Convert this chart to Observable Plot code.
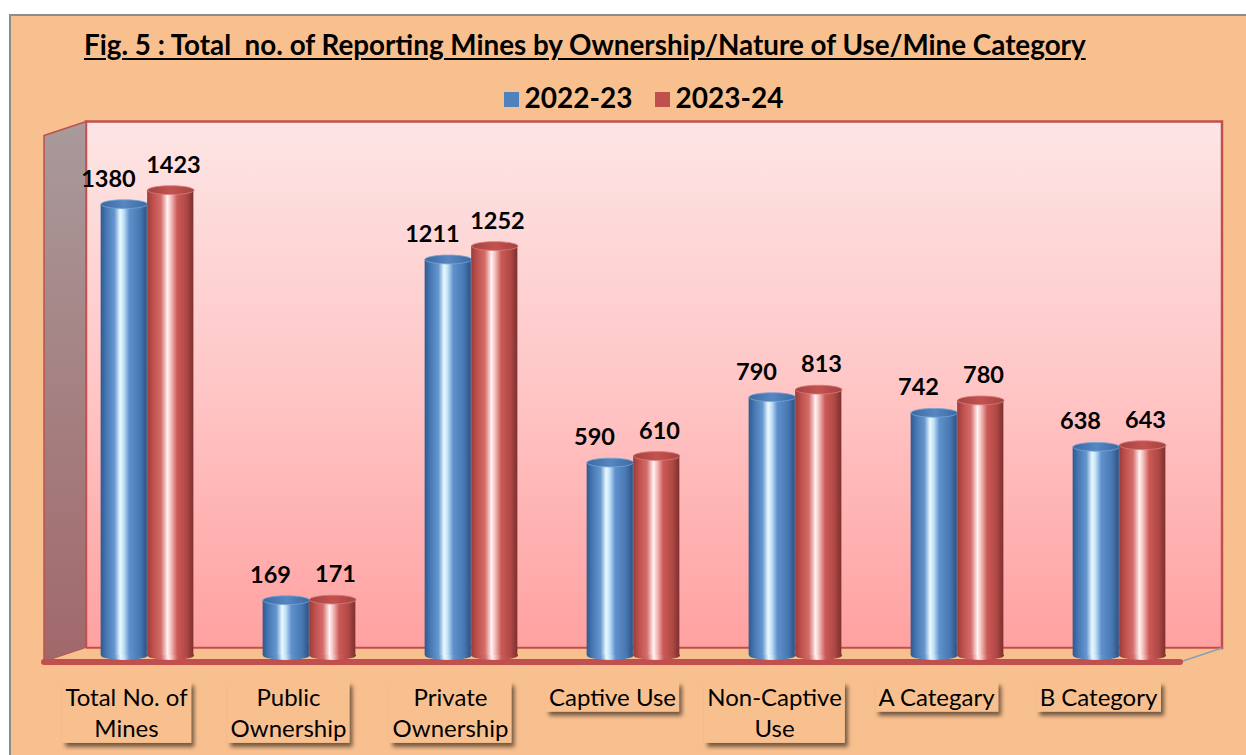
<!DOCTYPE html>
<html><head><meta charset="utf-8">
<script src="https://cdn.jsdelivr.net/npm/d3@7"></script>
<script src="https://cdn.jsdelivr.net/npm/@observablehq/plot@0.6"></script>
<style>
html,body{margin:0;padding:0;background:#fff;width:1246px;height:755px;overflow:hidden;position:relative;}
#panel{position:absolute;left:9px;top:14px;width:1260px;height:770px;background:#F9C08F;border:2px solid #8c8c8c;box-sizing:border-box;}
#title{position:absolute;left:84px;top:28px;font-family:Lato,"Open Sans",sans-serif;font-weight:700;font-size:27.8px;color:#000;text-decoration:underline;text-underline-offset:3px;white-space:pre;}
#legend{position:absolute;left:0;top:80px;width:1287px;text-align:center;font-family:Lato,"Open Sans",sans-serif;font-weight:700;font-size:28px;color:#000;line-height:34px;}
#legend span.item{display:inline-block;margin:0 11px;}
#legend span.sw{display:inline-block;width:15px;height:15px;margin-right:6px;vertical-align:1px;}
#chart{position:absolute;left:0;top:112px;}
</style></head>
<body>
<div id="panel"></div>
<div id="title">Fig. 5 : Total  no. of Reporting Mines by Ownership/Nature of Use/Mine Category</div>
<div id="legend"></div>
<div id="chart"></div>
<script>
// ---- data ----
const categories = ["Total No. of Mines","Public Ownership","Private Ownership","Captive Use","Non-Captive Use","A Categary","B Category"];
const tickLabels = ["Total No. of\nMines","Public\nOwnership","Private\nOwnership","Captive Use","Non-Captive\nUse","A Categary","B Category"];
const years = ["2022-23","2023-24"];
const values2022 = [1380,169,1211,590,790,742,638];
const values2023 = [1423,171,1252,610,813,780,643];
const yearColors = ["#4F81BD","#C0504D"];

const rows22 = categories.map((c,i)=>({category:c, year:years[0], value:values2022[i]}));
const rows23 = categories.map((c,i)=>({category:c, year:years[1], value:values2023[i]}));

// legend
const lg = document.getElementById("legend");
years.forEach((y,i)=>{
  const it = document.createElement("span"); it.className="item";
  const sw = document.createElement("span"); sw.className="sw"; sw.style.background=yearColors[i];
  it.appendChild(sw); it.appendChild(document.createTextNode(y)); lg.appendChild(it);
});

const NS = "http://www.w3.org/2000/svg";
function el(name, attrs, parent){ const e=document.createElementNS(NS,name); for(const k in attrs) e.setAttribute(k,attrs[k]); if(parent) parent.appendChild(e); return e; }
function lin(defs,id,stops,vertical){
  const g=el("linearGradient",{id, x1:0,y1:0,x2:vertical?0:1,y2:vertical?1:0},defs);
  stops.forEach(([o,c])=>el("stop",{offset:o,"stop-color":c},g));
}

const W=1246, H=645, yMax=1610, DX=21, DY=7;
const barW=46.5;

// decorative 3D box (walls, floor) + defs
function scene(index, scales, values, dims){
  const g=el("g",{});
  const defs=el("defs",{},g);
  lin(defs,"cylB",[[0,"#2d5a90"],[0.12,"#4677b2"],[0.3,"#6797cf"],[0.42,"#eaf9ff"],[0.5,"#bfe0f6"],[0.62,"#5f91cd"],[0.85,"#4878b2"],[1,"#2c5283"]]);
  lin(defs,"cylR",[[0,"#9a3c3a"],[0.12,"#bd4f4c"],[0.3,"#d56d6a"],[0.44,"#fff3f3"],[0.52,"#f3bcba"],[0.65,"#cb5956"],[0.85,"#b04845"],[1,"#7c302e"]]);
  lin(defs,"topB",[[0,"#3a69a2"],[0.5,"#5787c2"],[1,"#3a69a2"]]);
  lin(defs,"topR",[[0,"#a44341"],[0.5,"#c3524f"],[1,"#a44341"]]);
  lin(defs,"wallBack",[[0,"#fde5e5"],[0.5,"#ffc6c6"],[1,"#ffa1a1"]],true);
  lin(defs,"wallLeft",[[0,"#a99a9b"],[1,"#a1686a"]],true);
  const f=el("filter",{id:"shadow",x:"-20%",y:"-20%",width:"150%",height:"160%"},defs);
  el("feDropShadow",{dx:3,dy:4,stdDeviation:2.2,"flood-color":"#000","flood-opacity":0.55},f);
  const x0=dims.marginLeft, x1=dims.width-dims.marginRight;
  const yb=scales.y(0), yt=scales.y(yMax);
  // back wall
  el("rect",{x:x0+DX,y:yt-DY,width:x1-x0,height:yb-yt,fill:"url(#wallBack)",stroke:"#C0504D","stroke-width":2.5},g);
  // left wall
  el("polygon",{points:`${x0-DX},${yt+DY} ${x0+DX},${yt-DY} ${x0+DX},${yb-DY} ${x0-DX},${yb+DY}`,fill:"url(#wallLeft)",stroke:"#C0504D","stroke-width":1.5},g);
  // floor
  el("polygon",{points:`${x0-DX},${yb+DY} ${x0+DX},${yb-DY} ${x1+DX},${yb-DY} ${x1-DX},${yb+DY}`,fill:"#F9C08F",stroke:"none"},g);
  el("line",{x1:x0+DX,y1:yb-DY,x2:x1+DX,y2:yb-DY,stroke:"#C0504D","stroke-width":1.5},g);
  el("line",{x1:x1-DX,y1:yb+DY,x2:x1+DX,y2:yb-DY,stroke:"#8aa0b4","stroke-width":1.5},g);
  el("line",{x1:x0-DX,y1:yb+DY,x2:x1-DX,y2:yb+DY,stroke:"#C0504D","stroke-width":6,"stroke-linecap":"round"},g);
  return g;
}

const ellipse={draw(ctx,size){const rx=Math.sqrt(size/Math.PI), ry=rx*0.19, k=0.5523;
  ctx.moveTo(rx,0); ctx.bezierCurveTo(rx,ry*k,rx*k,ry,0,ry); ctx.bezierCurveTo(-rx*k,ry,-rx,ry*k,-rx,0);
  ctx.bezierCurveTo(-rx,-ry*k,-rx*k,-ry,0,-ry); ctx.bezierCurveTo(rx*k,-ry,rx,-ry*k,rx,0); ctx.closePath();}};

const marginLeft=65, marginRight=45;
const band=(W-marginLeft-marginRight)/categories.length;
const inset=(band-barW)/2;
const off=barW/2;

function cylinder(rows, dx, body, top, stroke){
  return [
    Plot.dot(rows,{x:"category", y:d=>0, r:barW/2, symbol:ellipse, fill:body, stroke:"none", dx}),
    Plot.barY(rows,{x:"category", y:"value", fill:body, dx, insetLeft:inset, insetRight:inset}),
    Plot.dot(rows,{x:"category", y:"value", r:barW/2, symbol:ellipse, fill:top, stroke, strokeWidth:0.8, dx})
  ];
}

const plot = Plot.plot({
  width:W, height:H,
  marginLeft, marginRight, marginTop:16.5, marginBottom:102,
  style:{background:"transparent", fontFamily:"Lato, 'Open Sans', sans-serif", color:"#000"},
  x:{domain:categories, padding:0, axis:null},
  y:{domain:[0,yMax], axis:null},
  marks:[
    scene,
    ...cylinder(rows22,-off,"url(#cylB)","url(#topB)","#78a4d6"),
    ...cylinder(rows23, off,"url(#cylR)","url(#topR)","#d87d7a"),
    Plot.text(rows22,{x:"category", y:"value", text:d=>String(d.value), dx:-39, dy:-25, fontSize:23.5, fontWeight:700, fill:"#000"}),
    Plot.text(rows23,{x:"category", y:"value", text:d=>String(d.value), dx:26, dy:-25, fontSize:23.5, fontWeight:700, fill:"#000"}),
    Plot.axisX({anchor:"bottom", tickSize:0, tickPadding:28, dx:-21, fontSize:24, lineHeight:1.3, label:null,
      tickFormat:d=>tickLabels[categories.indexOf(d)], fill:"#000"})
  ]
});
document.getElementById("chart").appendChild(plot);

// label boxes with drop shadow behind axis tick labels
plot.querySelectorAll('g[aria-label="x-axis tick label"] text').forEach(t=>{
  const b=t.getBBox();
  const r=el("rect",{x:b.x-3,y:b.y,width:b.width+6,height:b.height+1,fill:"#F9C08F",filter:"url(#shadow)"});
  const tr=t.getAttribute("transform"); if(tr) r.setAttribute("transform",tr);
  t.parentNode.insertBefore(r,t);
});
</script>
</body></html>
